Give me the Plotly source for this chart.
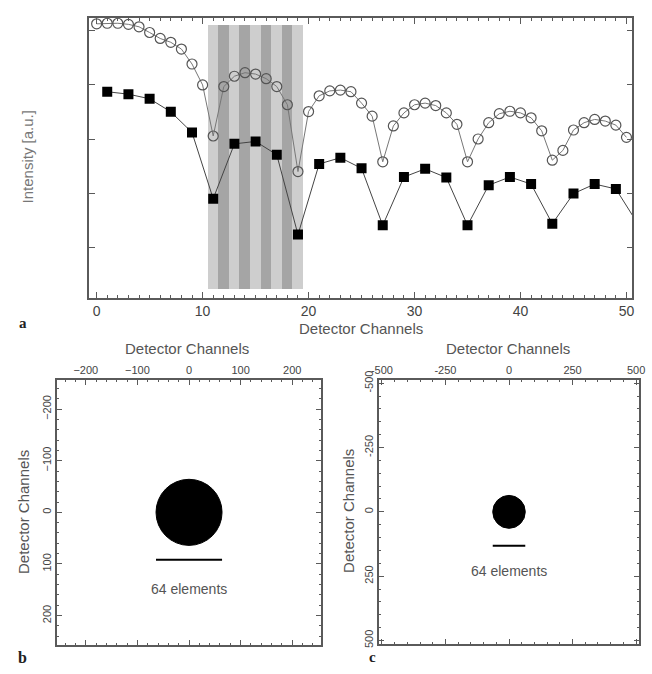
import plotly.graph_objects as go

# ---------------- data (panel a) ----------------
circle_channels = list(range(0, 51))
circle_values = [1.025, 1.027, 1.027, 1.023, 1.014, 0.993, 0.971, 0.957, 0.932, 0.877,
                 0.800, 0.612, 0.794, 0.832, 0.845, 0.840, 0.823, 0.794, 0.727, 0.481,
                 0.702, 0.760, 0.778, 0.781, 0.775, 0.733, 0.685, 0.517, 0.649, 0.697,
                 0.727, 0.733, 0.724, 0.697, 0.655, 0.517, 0.601, 0.661, 0.694, 0.703,
                 0.697, 0.679, 0.631, 0.523, 0.559, 0.634, 0.661, 0.673, 0.667, 0.652,
                 0.607]
square_channels = list(range(1, 52, 2))
square_values = [0.775, 0.766, 0.749, 0.701, 0.625, 0.381, 0.583, 0.592, 0.543, 0.249,
                 0.509, 0.532, 0.493, 0.283, 0.461, 0.491, 0.459, 0.283, 0.431, 0.461,
                 0.435, 0.289, 0.400, 0.435, 0.417, 0.293]
stripe_channels = list(range(11, 20))
stripe_shades = ["light", "dark", "light", "dark", "light", "dark", "light", "dark", "light"]
stripe_bottom = 0.049
stripe_top = 1.022
x_ticks_a = [0, 10, 20, 30, 40, 50]
y_ticks_a = [0.2, 0.4, 0.6, 0.8, 1.0]

# ---------------- data (panels b, c) ----------------
b_ticks = [-200, -100, 0, 100, 200]
c_ticks = [-500, -250, 0, 250, 500]
c_tick_labels = ["-500", "-250", "0", "250", "500"]
aperture_radius = 64
b_bar_y = 92
b_text_y = 148
c_bar_y = 132
c_text_y = 228
scale_label = "64 elements"

SHADE = {"light": "#cecece", "dark": "#a5a5a5"}
FRAME = "#5a5a5a"
TXT = "#555555"
FONT = "Liberation Sans"

fig = go.Figure()

# stripes
fig.add_trace(go.Bar(
    x=stripe_channels, y=[stripe_top - stripe_bottom] * len(stripe_channels),
    base=stripe_bottom, width=1, marker=dict(color=[SHADE[s] for s in stripe_shades], line_width=0),
    xaxis="x", yaxis="y", showlegend=False, hoverinfo="skip"))

# open circles
fig.add_trace(go.Scatter(
    x=circle_channels, y=circle_values, mode="lines+markers",
    line=dict(color="#777777", width=1),
    marker=dict(symbol="circle-open", size=10, color="#555555", line=dict(width=1.2, color="#555555")),
    xaxis="x", yaxis="y", showlegend=False))

# filled squares
fig.add_trace(go.Scatter(
    x=square_channels, y=square_values, mode="lines+markers",
    line=dict(color="#444444", width=1),
    marker=dict(symbol="square", size=10, color="black"),
    xaxis="x", yaxis="y", showlegend=False))

# invisible traces for bottom panels
fig.add_trace(go.Scatter(x=[0], y=[0], mode="markers", marker=dict(opacity=0),
                         xaxis="x2", yaxis="y2", showlegend=False, hoverinfo="skip"))
fig.add_trace(go.Scatter(x=[0], y=[0], mode="markers", marker=dict(opacity=0),
                         xaxis="x3", yaxis="y3", showlegend=False, hoverinfo="skip"))

W, H = 652, 674
def px_x(p):
    return p / W
def px_y(p):
    return 1 - p / H

common = dict(showline=True, linecolor=FRAME, linewidth=1.5, mirror="ticks",
              ticks="inside", tickcolor=FRAME, tickwidth=1, showgrid=False, zeroline=False,
              tickfont=dict(family=FONT, size=11, color="#444444"))

shapes = []
annotations = []
# panel b
shapes.append(dict(type="circle", xref="x2", yref="y2", x0=-aperture_radius, x1=aperture_radius,
                   y0=-aperture_radius, y1=aperture_radius, fillcolor="black", line=dict(color="black", width=1)))
shapes.append(dict(type="line", xref="x2", yref="y2", x0=-aperture_radius, x1=aperture_radius,
                   y0=b_bar_y, y1=b_bar_y, line=dict(color="black", width=2)))
annotations.append(dict(xref="x2", yref="y2", x=0, y=b_text_y, text=scale_label, showarrow=False,
                        font=dict(family=FONT, size=14, color=TXT)))
# panel c
shapes.append(dict(type="circle", xref="x3", yref="y3", x0=-aperture_radius, x1=aperture_radius,
                   y0=-aperture_radius, y1=aperture_radius, fillcolor="black", line=dict(color="black", width=1)))
shapes.append(dict(type="line", xref="x3", yref="y3", x0=-aperture_radius, x1=aperture_radius,
                   y0=c_bar_y, y1=c_bar_y, line=dict(color="black", width=2)))
annotations.append(dict(xref="x3", yref="y3", x=0, y=c_text_y, text=scale_label, showarrow=False,
                        font=dict(family=FONT, size=14, color=TXT)))

def paper_text(x, y, text, size=15, angle=0, color=TXT, family=FONT):
    annotations.append(dict(xref="paper", yref="paper", x=px_x(x), y=px_y(y), text=text,
                            showarrow=False, textangle=angle, xanchor="center", yanchor="middle",
                            font=dict(family=family, size=size, color=color)))

paper_text(20, 150, "Intensity [a.u.]", angle=-90, color="#777777")
paper_text(361, 325, "Detector Channels")
paper_text(183, 346, "Detector Channels")
paper_text(511, 346, "Detector Channels")
paper_text(16, 513, "Detector Channels", angle=-90)
paper_text(348, 512, "Detector Channels", angle=-90)
paper_text(15, 320, "<b>a</b>", size=15, color="#222222", family="Liberation Serif")
paper_text(15, 661, "<b>b</b>", size=16, color="#222222", family="Liberation Serif")
paper_text(372, 661, "<b>c</b>", size=15, color="#222222", family="Liberation Serif")

fig.update_layout(
    width=W, height=H, margin=dict(l=0, r=0, t=0, b=0),
    paper_bgcolor="white", plot_bgcolor="white", showlegend=False, bargap=0,
    xaxis=dict(domain=[px_x(83), px_x(638)], range=[-0.7, 50.55], anchor="y",
               tickvals=x_ticks_a, ticklen=6, minor=dict(dtick=1, tick0=0, ticklen=3, ticks="inside", tickcolor=FRAME),
               **{**common, "tickfont": dict(family=FONT, size=14, color="#444444")}),
    yaxis=dict(domain=[px_y(294), px_y(8)], range=[0.016, 1.047], anchor="x",
               tickvals=y_ticks_a, ticklen=6, showticklabels=False, **common),
    xaxis2=dict(domain=[px_x(50), px_x(320)], range=[-256, 256], anchor="y2", side="top",
                tickvals=b_ticks, ticklen=5, minor=dict(dtick=20, tick0=0, ticklen=2, ticks="inside", tickcolor=FRAME),
                **common),
    yaxis2=dict(domain=[px_y(648), px_y(378)], range=[256, -256], anchor="x2",
                tickvals=b_ticks, ticklen=5, tickangle=-90,
                minor=dict(dtick=20, tick0=0, ticklen=2, ticks="inside", tickcolor=FRAME), **common),
    xaxis3=dict(domain=[px_x(379), px_x(645)], range=[-512, 512], anchor="y3", side="top",
                tickvals=c_ticks, ticktext=c_tick_labels, ticklen=5,
                minor=dict(dtick=50, tick0=0, ticklen=2, ticks="inside", tickcolor=FRAME), **common),
    yaxis3=dict(domain=[px_y(647), px_y(378)], range=[512, -512], anchor="x3",
                tickvals=c_ticks, ticktext=c_tick_labels, ticklen=5, tickangle=-90,
                minor=dict(dtick=50, tick0=0, ticklen=2, ticks="inside", tickcolor=FRAME), **common),
    shapes=shapes, annotations=annotations,
)

fig.write_html("out.html", config={"displayModeBar": False},
               post_script="document.body.style.margin='0';document.body.style.overflow='hidden';")
